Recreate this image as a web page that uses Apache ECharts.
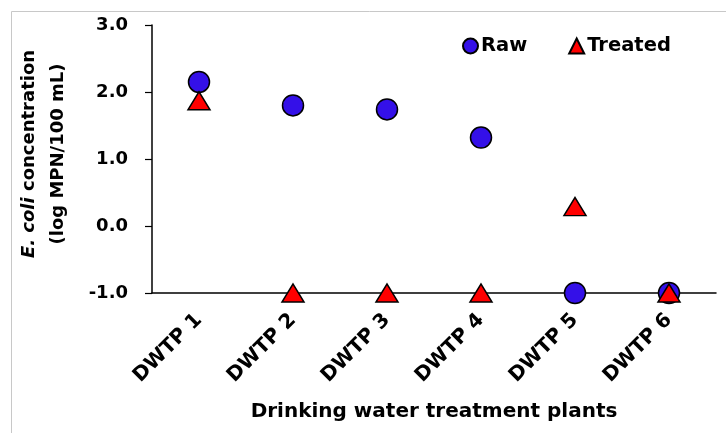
<!DOCTYPE html>
<html>
<head>
<meta charset="utf-8">
<script src="https://cdn.jsdelivr.net/npm/echarts@6/dist/echarts.min.js"></script>
<style>html,body{margin:0;padding:0;background:#fff}#c{width:726px;height:433px}</style>
</head>
<body>
<div id="c"></div>
<script>
const categories = ['DWTP 1', 'DWTP 2', 'DWTP 3', 'DWTP 4', 'DWTP 5', 'DWTP 6'];
const rawValues = [2.15, 1.80, 1.74, 1.32, -1.0, -1.0];
const treatedValues = [1.87, -1.0, -1.0, -1.0, 0.29, -1.0];
const yTicks = [-1, 0, 1, 2, 3];

const FONT = 'DejaVu Sans';
const chart = echarts.init(document.getElementById('c'), null, {renderer: 'canvas'});
chart.setOption({
  animation: false,
  backgroundColor: '#fff',
  graphic: [{
    type: 'rect', silent: true, z: -10,
    shape: {x: 11.5, y: 11.5, width: 900, height: 600},
    style: {fill: 'none', stroke: '#c8c8c8', lineWidth: 1}
  }],
  grid: {left: 152, top: 25, right: 10, bottom: 140, containLabel: false, outerBoundsMode: 'none'},
  legend: {
    data: ['Raw', 'Treated'],
    top: 31, left: 457,
    itemWidth: 15, itemHeight: 15, itemGap: 41,
    textStyle: {fontFamily: FONT, fontWeight: 'bold', fontSize: 19.5, color: '#000', padding: [0, 0, 0, -2]}
  },
  xAxis: {
    type: 'category',
    data: categories,
    boundaryGap: true,
    axisLine: {onZero: false, lineStyle: {color: '#000', width: 1.5}},
    axisTick: {alignWithLabel: true, length: 5, lineStyle: {color: '#000', width: 1.2}},
    axisLabel: {rotate: 45, margin: 24, fontFamily: FONT, fontWeight: 'bold', fontSize: 20, color: '#000'},
    name: 'Drinking water treatment plants',
    nameLocation: 'middle', nameGap: 109,
    nameTextStyle: {fontFamily: FONT, fontWeight: 'bold', fontSize: 20, color: '#000'}
  },
  yAxis: {
    type: 'value',
    min: yTicks[0], max: yTicks[yTicks.length - 1], interval: 1,
    splitLine: {show: false},
    axisLine: {show: true, lineStyle: {color: '#000', width: 1.5}},
    axisTick: {show: true, length: 7, lineStyle: {color: '#000', width: 1.2}},
    axisLabel: {margin: 24, fontFamily: FONT, fontWeight: 'bold', fontSize: 18, color: '#000',
      formatter: v => v.toFixed(1)},
    name: '{i|E. coli} concentration\n(log MPN/100 mL)',
    nameLocation: 'middle', nameRotate: 90, nameGap: 79,
    nameTextStyle: {fontFamily: FONT, fontWeight: 'bold', fontSize: 18, color: '#000', lineHeight: 29,
      padding: [0, 0, 0, 10],
      rich: {i: {fontFamily: FONT, fontWeight: 'bold', fontStyle: 'italic', fontSize: 18, color: '#000'}}}
  },
  series: [
    {name: 'Raw', type: 'scatter', data: rawValues, symbol: 'circle', symbolSize: 21,
     itemStyle: {color: '#3410e8', borderColor: '#000', borderWidth: 1.5, opacity: 1}},
    {name: 'Treated', type: 'scatter', data: treatedValues, symbol: 'triangle', symbolSize: [22, 18],
     itemStyle: {color: '#ff0000', borderColor: '#000', borderWidth: 1.5, opacity: 1}}
  ]
});
</script>
</body>
</html>
